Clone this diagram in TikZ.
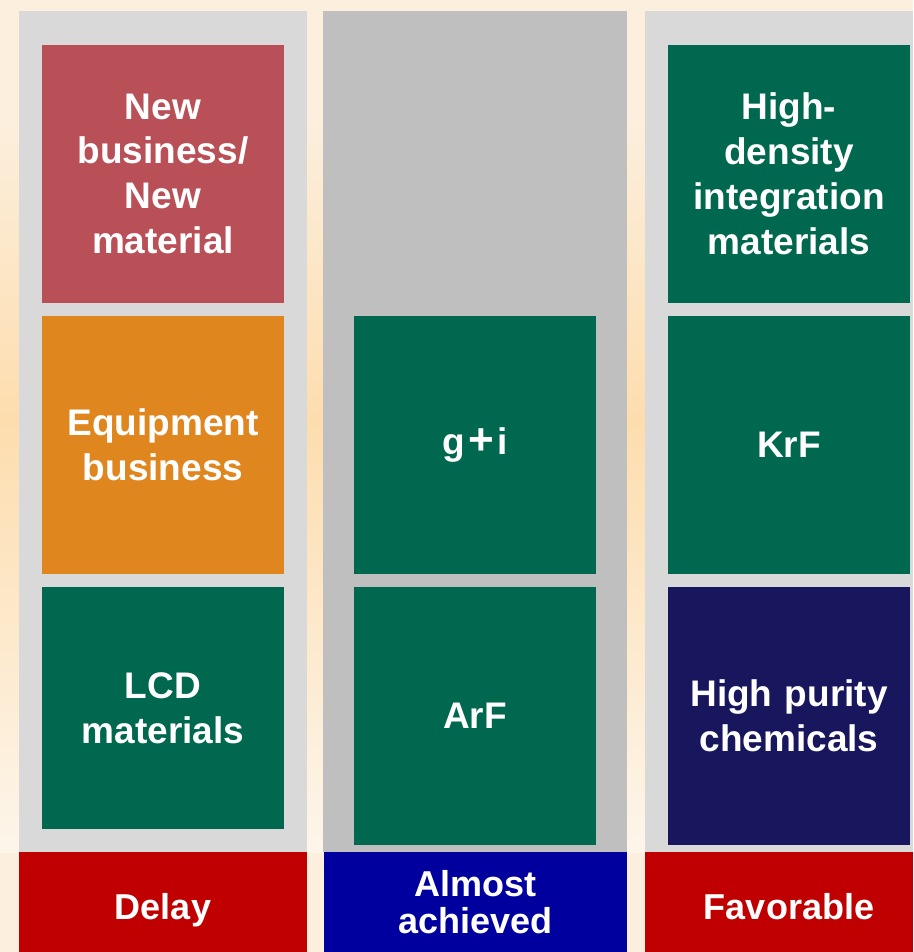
\documentclass[tikz,border=0pt]{standalone}
\usepackage{fontspec}
\setmainfont{Liberation Sans}
\usepackage{xcolor}
\usetikzlibrary{positioning}
\definecolor{peach}{HTML}{FCEFDD}
\definecolor{peachdeep}{HTML}{FDDDAE}
\definecolor{lanelight}{HTML}{D9D9D9}
\definecolor{lanedark}{HTML}{BFBFBF}
\definecolor{rosered}{HTML}{B94F57}
\definecolor{amber}{HTML}{E0861F}
\definecolor{forest}{HTML}{00684F}
\definecolor{navy}{HTML}{18175E}
\definecolor{alertred}{HTML}{C00000}
\definecolor{royal}{HTML}{00009E}

\begin{document}
\begin{tikzpicture}[
  x=1pt, y=-1pt,
  tile/.style={
    minimum width=242pt, minimum height=258pt, inner sep=0pt,
    text width=240pt, align=center, text=white,
    font=\fontsize{37}{45}\selectfont\bfseries},
  status/.style={
    minimum height=100pt, inner sep=0pt, align=center, text=white,
    font=\fontsize{36}{37}\selectfont\bfseries},
  oneline/.style={text height=34pt, text depth=0pt},
]
  %% Backdrop
  \fill[peach] (0,0) rectangle (913,952);
  \shade[top color=peach, bottom color=peachdeep] (0,120) rectangle (913,420);
  \shade[top color=peachdeep, bottom color=peach!60!white] (0,420) rectangle (913,852);
  \useasboundingbox (0,0) rectangle (913,952);

  %% ─── LANES ──────────────────────────────────────────────────────────
  \fill[lanelight] (19,11)  rectangle (307,852);
  \fill[lanedark]  (323,11) rectangle (627,852);
  \fill[lanelight] (645,11) rectangle (913,852);

  %% ─── LEFT LANE ──────────────────────────────────────────────────────
  \node[tile, fill=rosered] (newbiz) at (163,174) {\raisebox{-1pt}{New}\\business/\\New\\material};
  \node[tile, fill=amber]   (equip)  at (163,445) {Equipment\\business};
  \node[tile, fill=forest, minimum height=242pt] (lcd) at (163,708) {LCD\\materials};

  %% ─── MIDDLE LANE ────────────────────────────────────────────────────
  \node[tile, fill=forest] (gi)  at (475,445) {g\kern3pt{\fontsize{44}{44}\selectfont +}\kern3pt i};
  \node[tile, fill=forest] (arf) at (475,716) {ArF};

  %% ─── RIGHT LANE ─────────────────────────────────────────────────────
  \node[tile, fill=forest] (hdi)  at (789,174) {High-\\density\\integration\\materials};
  \node[tile, fill=forest] (krf)  at (789,445) {KrF};
  \node[tile, fill=navy]   (hpc)  at (789,716) {High purity\\chemicals};

  %% ─── STATUS BAR ─────────────────────────────────────────────────────
  \node[status, oneline, fill=alertred, minimum width=288pt] (delay)  at (163,902) {Delay};
  \node[status, fill=royal, minimum width=303pt] (almost) at (475.5,902) {Almost\\achieved};
  \node[status, oneline, fill=alertred, minimum width=268pt] (favor)  at (779,902) {\hspace*{20pt}Favorable};
\end{tikzpicture}
\end{document}
